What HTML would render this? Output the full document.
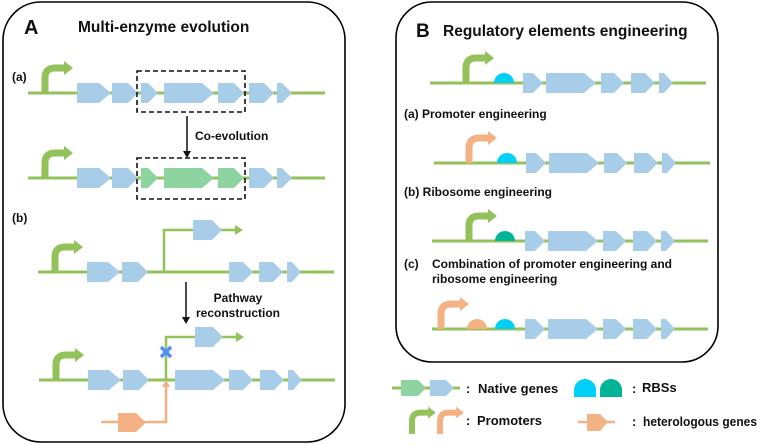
<!DOCTYPE html>
<html><head><meta charset="utf-8"><style>
html,body{margin:0;padding:0;background:#fff}
svg{display:block}
text{font-family:"Liberation Sans",Arial,sans-serif;font-weight:bold;fill:#111}
</style></head><body>
<svg width="761" height="445" viewBox="0 0 761 445" xmlns="http://www.w3.org/2000/svg">
<defs>
<g id="pg"><path d="M0,1 V-14 Q0,-24 10,-24 H20" fill="none" stroke="#93c15a" stroke-width="7"/><polygon points="19,-31 28,-24 19,-17" fill="#93c15a"/></g>
<g id="po"><path d="M0,1 V-14 Q0,-24 10,-24 H20" fill="none" stroke="#f4b183" stroke-width="7"/><polygon points="19,-31 28,-24 19,-17" fill="#f4b183"/></g>
</defs>
<g fill="none" stroke="#000" stroke-width="1.6">
<rect x="3" y="2" width="342" height="440" rx="38"/>
<rect x="396" y="2" width="322" height="360" rx="36"/>
</g>
<text x="24" y="34" font-size="20">A</text>
<text x="78" y="32" font-size="15.5">Multi-enzyme evolution</text>
<text x="12" y="81" font-size="12">(a)</text>
<text x="12" y="222" font-size="12">(b)</text>

<line x1="28" y1="93" x2="325" y2="93" stroke="#93c15a" stroke-width="3"/>
<use href="#pg" x="45" y="92"/>
<g fill="#a8cde8">
<polygon points="77,83 99,83 111,93 99,103 77,103"/>
<polygon points="112,83 128,83 138,93 128,103 112,103"/>
<polygon points="141,83 148,83 158,93 148,103 141,103"/>
<polygon points="164,83 202,83 214,93 202,103 164,103"/>
<polygon points="218,83 234,83 244,93 234,103 218,103"/>
<polygon points="249,83 264,83 274,93 264,103 249,103"/>
<polygon points="277,83 282,83 292,93 282,103 277,103"/>
</g>
<rect x="137" y="71" width="108" height="41" fill="none" stroke="#111" stroke-width="1.6" stroke-dasharray="5,3"/>
<line x1="187" y1="116" x2="187" y2="152" stroke="#111" stroke-width="1.5"/>
<polygon points="183,151 191,151 187,158" fill="#111"/>
<text x="195" y="140" font-size="12">Co-evolution</text>

<line x1="28" y1="178" x2="325" y2="178" stroke="#93c15a" stroke-width="3"/>
<use href="#pg" x="45" y="177"/>
<g fill="#a8cde8">
<polygon points="77,168 99,168 111,178 99,188 77,188"/>
<polygon points="112,168 128,168 138,178 128,188 112,188"/>
<polygon points="249,168 264,168 274,178 264,188 249,188"/>
<polygon points="277,168 282,168 292,178 282,188 277,188"/>
</g>
<g fill="#8ed4a0">
<polygon points="141,168 148,168 158,178 148,188 141,188"/>
<polygon points="164,168 202,168 214,178 202,188 164,188"/>
<polygon points="218,168 234,168 244,178 234,188 218,188"/>
</g>
<rect x="137" y="158" width="108" height="41" fill="none" stroke="#111" stroke-width="1.6" stroke-dasharray="5,3"/>

<line x1="38" y1="272" x2="334" y2="272" stroke="#93c15a" stroke-width="3"/>
<polyline points="164,272 164,230 236,230" fill="none" stroke="#93c15a" stroke-width="2.5"/>
<polygon points="235,225 243,230 235,235" fill="#93c15a"/>
<use href="#pg" x="55" y="271"/>
<g fill="#a8cde8">
<polygon points="87,262 108,262 120,272 108,282 87,282"/>
<polygon points="122,262 138,262 148,272 138,282 122,282"/>
<polygon points="193,220 212,220 222,230 212,240 193,240"/>
<polygon points="229,262 243,262 253,272 243,282 229,282"/>
<polygon points="259,262 273,262 283,272 273,282 259,282"/>
<polygon points="287,262 292,262 301,272 292,282 287,282"/>
</g>
<line x1="186" y1="282" x2="186" y2="318" stroke="#111" stroke-width="1.5"/>
<polygon points="182,317 190,317 186,324" fill="#111"/>
<text x="238" y="302" font-size="12" text-anchor="middle">Pathway</text>
<text x="238" y="317" font-size="12" text-anchor="middle">reconstruction</text>

<line x1="39" y1="380" x2="335" y2="380" stroke="#93c15a" stroke-width="3"/>
<polyline points="166,380 166,337 237,337" fill="none" stroke="#93c15a" stroke-width="2.5"/>
<polygon points="236,332 244,337 236,342" fill="#93c15a"/>
<polyline points="101,422 166,422 166,386" fill="none" stroke="#f4b183" stroke-width="2.5"/>
<polygon points="162,387 170,387 166,380" fill="#f4b183"/>
<use href="#pg" x="56" y="379"/>
<g fill="#a8cde8">
<polygon points="88,370 109,370 121,380 109,390 88,390"/>
<polygon points="123,370 139,370 149,380 139,390 123,390"/>
<polygon points="195,327 213,327 223,337 213,347 195,347"/>
<polygon points="175,370 213,370 225,380 213,390 175,390"/>
<polygon points="229,370 243,370 253,380 243,390 229,390"/>
<polygon points="260,370 274,370 284,380 274,390 260,390"/>
<polygon points="288,370 293,370 302,380 293,390 288,390"/>
</g>
<polygon points="118,413 136,413 146,422.5 136,432 118,432" fill="#f4b183"/>
<g stroke="#4f8ff7" stroke-width="3.5"><line x1="161" y1="347" x2="171" y2="357"/><line x1="171" y1="347" x2="161" y2="357"/></g>

<text x="416" y="37" font-size="19">B</text>
<text x="443" y="36" font-size="15.5">Regulatory elements engineering</text>
<line x1="430" y1="83" x2="706" y2="83" stroke="#93c15a" stroke-width="3"/>
<use href="#pg" x="466" y="82"/>
<path d="M494,83 A10,10 0 0 1 514,83 Z" fill="#00d0f5"/>
<g fill="#a8cde8">
<polygon points="523,73 533,73 543,83 533,93 523,93"/>
<polygon points="546,73 584,73 596,83 584,93 546,93"/>
<polygon points="601,73 614,73 624,83 614,93 601,93"/>
<polygon points="631,73 645,73 655,83 645,93 631,93"/>
<polygon points="659,73 664,73 673,83 664,93 659,93"/>
</g>
<text x="404" y="118" font-size="12">(a) Promoter engineering</text>
<line x1="434" y1="163" x2="710" y2="163" stroke="#93c15a" stroke-width="3"/>
<use href="#po" x="469" y="162"/>
<path d="M497,163 A10,10 0 0 1 517,163 Z" fill="#00d0f5"/>
<g fill="#a8cde8">
<polygon points="526,153 536,153 546,163 536,173 526,173"/>
<polygon points="549,153 587,153 599,163 587,173 549,173"/>
<polygon points="604,153 617,153 627,163 617,173 604,173"/>
<polygon points="634,153 648,153 658,163 648,173 634,173"/>
<polygon points="662,153 667,153 676,163 667,173 662,173"/>
</g>
<text x="404" y="196" font-size="12">(b) Ribosome engineering</text>
<line x1="432" y1="241" x2="708" y2="241" stroke="#93c15a" stroke-width="3"/>
<use href="#pg" x="469" y="240"/>
<path d="M495,241 A10,10 0 0 1 515,241 Z" fill="#00b597"/>
<g fill="#a8cde8">
<polygon points="525,231 535,231 545,241 535,251 525,251"/>
<polygon points="548,231 586,231 598,241 586,251 548,251"/>
<polygon points="603,231 616,231 626,241 616,251 603,251"/>
<polygon points="633,231 647,231 657,241 647,251 633,251"/>
<polygon points="661,231 666,231 675,241 666,251 661,251"/>
</g>
<text x="404" y="268" font-size="12">(c)</text>
<text x="432" y="268" font-size="12">Combination of promoter engineering and</text>
<text x="432" y="283" font-size="12">ribosome engineering</text>
<line x1="432" y1="329" x2="708" y2="329" stroke="#93c15a" stroke-width="3"/>
<use href="#po" x="441" y="328"/>
<path d="M467,329 A10,10 0 0 1 487,329 Z" fill="#f4b183"/>
<path d="M495,329 A10,10 0 0 1 515,329 Z" fill="#00d0f5"/>
<g fill="#a8cde8">
<polygon points="525,319 535,319 545,329 535,339 525,339"/>
<polygon points="548,319 586,319 598,329 586,339 548,339"/>
<polygon points="603,319 616,319 626,329 616,339 603,339"/>
<polygon points="633,319 647,319 657,329 647,339 633,339"/>
<polygon points="661,319 666,319 675,329 666,339 661,339"/>
</g>

<line x1="392" y1="388" x2="460" y2="388" stroke="#93c15a" stroke-width="3"/>
<polygon points="401,380 418,380 426,388 418,396 401,396" fill="#8ed4a0"/>
<polygon points="430,380 446,380 454,388 446,396 430,396" fill="#a8cde8"/>
<text x="466" y="393" font-size="13">:</text>
<text x="478" y="393" font-size="13">Native genes</text>
<path d="M574,397 V390 A11,11 0 0 1 596,390 V397 Z" fill="#00d0f5"/>
<path d="M600,397 V390 A11,11 0 0 1 622,390 V397 Z" fill="#00b597"/>
<text x="632" y="393" font-size="13">:</text>
<text x="642" y="392" font-size="13">RBSs</text>
<g transform="translate(412,433) scale(0.85)"><use href="#pg"/></g>
<g transform="translate(440,433) scale(0.85)"><use href="#po"/></g>
<text x="466" y="425" font-size="13">:</text>
<text x="477" y="425" font-size="13">Promoters</text>
<line x1="578" y1="422" x2="615" y2="422" stroke="#f4b183" stroke-width="2.5"/>
<polygon points="587,414 600,414 608,422 600,431 587,431" fill="#f4b183"/>
<text x="632" y="426" font-size="13">:</text>
<text x="643" y="426" font-size="13" textLength="114" lengthAdjust="spacingAndGlyphs">heterologous genes</text>
</svg>
</body></html>
